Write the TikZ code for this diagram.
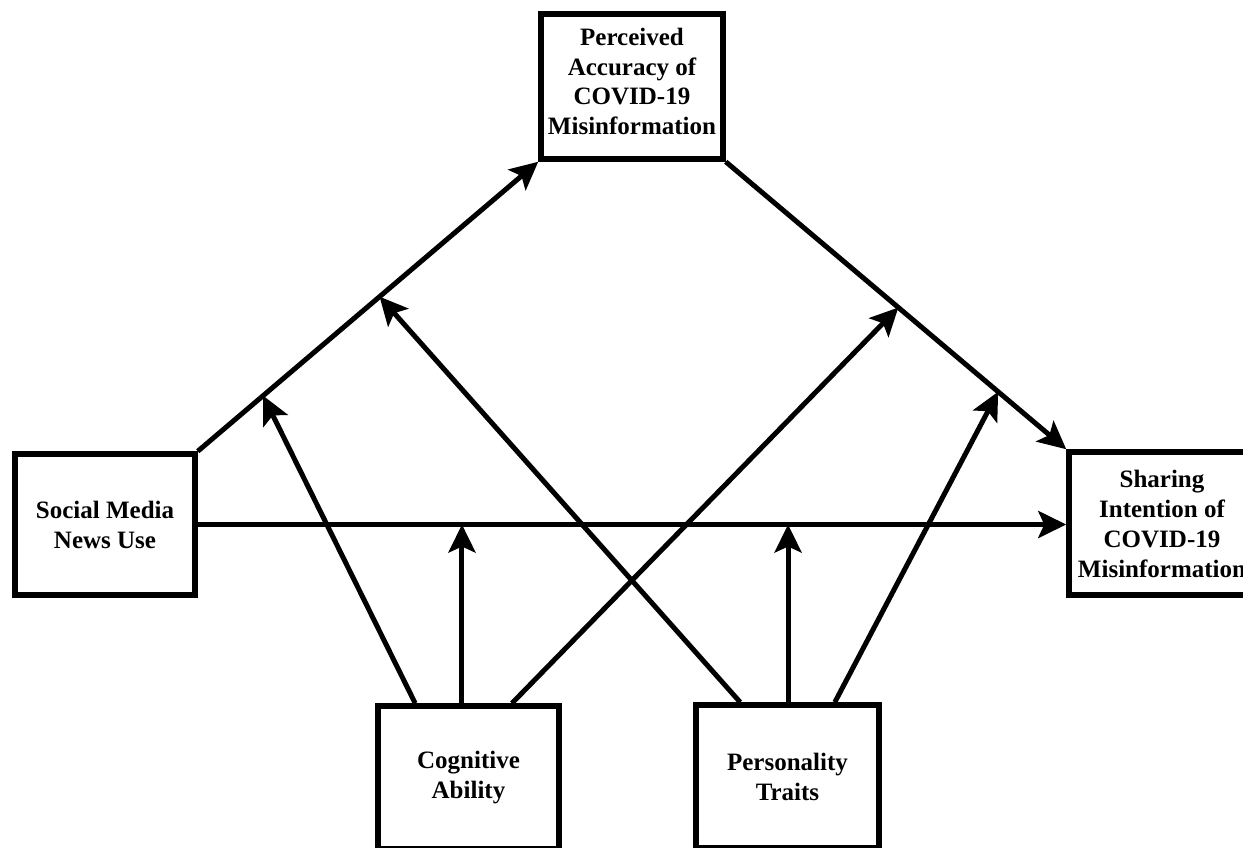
\documentclass[tikz,border=0pt]{standalone}
\usepackage{fontspec}
\setmainfont{Liberation Serif}
\usetikzlibrary{arrows.meta,calc}
\begin{document}
\begin{tikzpicture}[x=1pt,y=-1pt,
  box/.style={draw, line width=5.5pt, inner sep=0pt, align=center,
    font=\bfseries\fontsize{25}{30}\selectfont},
  txt/.style={inner sep=0pt, align=center, font=\bfseries\fontsize{25}{29.5}\selectfont},
  arr/.style={line width=5pt, -{Stealth[length=28pt,width=27pt,inset=6pt]}}]
\useasboundingbox (0,0) rectangle (1243,847);
\clip (0,0) rectangle (1243,847);
\node[box, minimum width=182pt, minimum height=145pt] (pac) at (632,86.5) {};
\node[txt] (pactext) at ([yshift=5pt]pac.center)
  {Perceived\\Accuracy of\\COVID-19\\Misinformation};
\node[box, minimum width=180pt, minimum height=141pt] (smnu) at (105,524.5)
  {Social Media\\News Use};
\node[box, minimum width=186pt, minimum height=143pt] (sia) at (1162,523.5)
  {Sharing\\Intention of\\COVID-19\\Misinformation};
\node[box, minimum width=181pt, minimum height=143pt] (cog) at (468.5,777.5)
  {Cognitive\\Ability};
\node[box, minimum width=183pt, minimum height=143pt] (pt) at (787.5,776.5)
  {Personality\\Traits};
% main paths
\draw[arr] (smnu.north east) -- (pac.south west);
\draw[arr] (pac.south east) -- (sia.north west);
\draw[arr] (smnu.east) -- (smnu.east -| sia.west);
% moderation targets
\coordinate (m1) at ($(smnu.north east)!0.192!(pac.south west)$);
\coordinate (m2) at ($(smnu.north east)!0.534!(pac.south west)$);
\coordinate (m3) at ($(pac.south east)!0.507!(sia.north west)$);
\coordinate (m4) at ($(pac.south east)!0.80!(sia.north west)$);
% sources
\coordinate (c1) at ($(cog.north west)!0.214!(cog.north east)$);
\coordinate (c2) at ($(cog.north west)!0.465!(cog.north east)$);
\coordinate (c3) at ($(cog.north west)!0.733!(cog.north east)$);
\coordinate (p1) at ($(pt.north west)!0.249!(pt.north east)$);
\coordinate (p2) at ($(pt.north west)!0.503!(pt.north east)$);
\coordinate (p3) at ($(pt.north west)!0.751!(pt.north east)$);
\draw[arr] (c1) -- (m1);
\draw[arr] (c2) -- (c2 |- smnu.east);
\draw[arr] (c3) -- (m3);
\draw[arr] (p1) -- (m2);
\draw[arr] (p2) -- (p2 |- smnu.east);
\draw[arr] (p3) -- (m4);
\end{tikzpicture}
\end{document}
